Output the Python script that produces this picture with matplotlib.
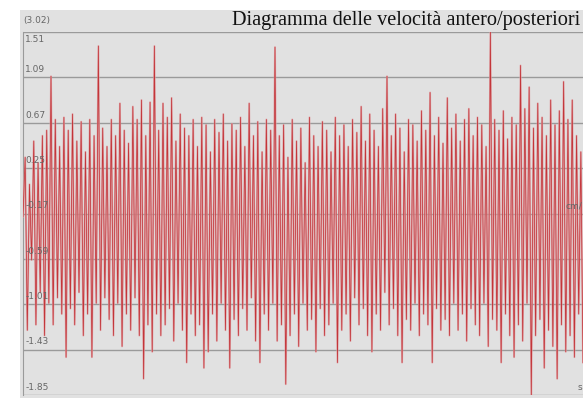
import matplotlib.pyplot as plt
from matplotlib.patches import Rectangle
import numpy as np

# velocity extremes per oscillation cycle (cm/s)
peaks = [0.35, 0.10, 0.50, 0.30, 0.55, 0.60, 1.10, 0.70, 0.45, 0.72,
         0.60, 0.75, 0.50, 0.68, 0.40, 0.70, 0.55, 1.38, 0.62, 0.45,
         0.70, 0.55, 0.85, 0.60, 0.48, 0.82, 0.70, 0.88, 0.55, 0.86,
         1.38, 0.60, 0.85, 0.72, 0.90, 0.50, 0.75, 0.62, 0.55, 0.70,
         0.45, 0.72, 0.65, 0.40, 0.70, 0.58, 0.75, 0.50, 0.66, 0.60,
         0.72, 0.45, 0.85, 0.55, 0.68, 0.40, 0.70, 0.60, 1.37, 0.55,
         0.65, 0.35, 0.70, 0.50, 0.62, 0.30, 0.72, 0.55, 0.45, 0.68,
         0.60, 0.40, 0.72, 0.55, 0.65, 0.45, 0.70, 0.58, 0.82, 0.50,
         0.75, 0.60, 0.45, 0.80, 1.10, 0.55, 0.75, 0.62, 0.40, 0.70,
         0.65, 0.50, 0.78, 0.60, 0.95, 0.55, 0.72, 0.48, 0.90, 0.62,
         0.75, 0.50, 0.70, 0.80, 0.55, 0.72, 0.65, 0.45, 1.51, 0.70,
         0.60, 0.78, 0.52, 0.72, 0.65, 1.20, 0.80, 1.00, 0.62, 0.85,
         0.72, 0.55, 0.88, 0.65, 0.78, 1.05, 0.70, 0.88, 0.55, 0.40]
troughs = [-1.25, -0.60, -1.20, -0.90, -1.30, -1.00, -1.20, -0.95, -1.10, -1.50,
           -1.05, -1.20, -0.90, -1.30, -1.10, -1.50, -1.00, -1.25, -0.95, -1.15,
           -1.30, -1.00, -1.40, -1.10, -1.25, -0.95, -1.30, -1.70, -1.20, -1.45,
           -1.10, -1.30, -1.20, -1.05, -1.35, -1.00, -1.25, -1.55, -1.10, -1.30,
           -1.20, -1.60, -1.45, -1.10, -1.35, -1.00, -1.25, -1.60, -1.15, -1.30,
           -1.05, -1.25, -0.95, -1.35, -1.55, -1.10, -1.25, -1.00, -1.35, -1.20,
           -1.75, -1.30, -1.10, -1.40, -1.00, -1.25, -1.15, -1.45, -1.05, -1.30,
           -1.20, -1.00, -1.55, -1.25, -1.10, -1.35, -0.95, -1.20, -1.05, -1.30,
           -1.45, -1.10, -1.25, -0.90, -1.20, -1.05, -1.30, -1.55, -1.15, -1.25,
           -1.00, -1.30, -1.10, -1.20, -1.55, -1.05, -1.25, -1.15, -1.30, -1.00,
           -1.25, -1.10, -1.35, -1.05, -1.20, -1.30, -1.00, -1.40, -1.15, -1.25,
           -1.55, -1.10, -1.30, -1.50, -1.20, -1.35, -1.00, -1.85, -1.30, -1.15,
           -1.60, -1.25, -1.40, -1.70, -1.20, -1.45, -1.30, -1.50, -1.10, -1.55]
start_value = -0.20

grid_values = [1.51, 1.09, 0.67, 0.25, -0.17, -0.59, -1.01, -1.43, -1.85]
range_label = '(3.02)'
title = 'Diagramma delle velocità antero/posteriori'

# interleave the cycle extremes into one trace
signal = [start_value]
for p, t in zip(peaks, troughs):
    signal += [p, t]
signal = np.array(signal)
t_axis = np.arange(len(signal)) / 2.0

fig = plt.figure(figsize=(5.83, 4.0), dpi=100)
fig.patch.set_facecolor('white')
# grey panel behind title and plot
fig.add_artist(Rectangle((20 / 583, 2 / 400), 1, 388 / 400, transform=fig.transFigure,
                         facecolor='#e1e1e1', edgecolor='none', zorder=-10))

ax = fig.add_axes([23 / 583, 5 / 400, 1 - 23 / 583, 363 / 400])
ax.set_zorder(1)
ax.set_facecolor('#e1e1e1')
# soft pink body plus darker core, like a blurred red trace
ax.plot(t_axis, signal, color='#e0a0a3', lw=1.4, alpha=0.85, zorder=3)
ax.plot(t_axis, signal, color='#c0282d', lw=0.55, alpha=0.9, zorder=3)

ylab = ax.get_yaxis_transform()
for v in grid_values:
    ax.axhline(v, color='#9a9a9a', lw=1.0, zorder=2)
    if v == grid_values[0]:
        ax.text(0.004, v - 0.03, f'{v:.2f}', transform=ylab,
                ha='left', va='top', fontsize=6.5, color='#666666', zorder=4)
    else:
        ax.text(0.004, v + 0.03, f'{v:.2f}', transform=ylab,
                ha='left', va='bottom', fontsize=6.5, color='#666666', zorder=4)

ax.set_xlim(0, t_axis[-1])
ax.set_ylim(grid_values[-1], grid_values[0])
ax.set_xticks([])
ax.set_yticks([])
for side in ['top', 'right', 'bottom']:
    ax.spines[side].set_visible(False)
ax.spines['left'].set_color('#9a9a9a')

ax.text(0.998, -0.17 + 0.03, 'cm/', transform=ylab,
        ha='right', va='bottom', fontsize=6.5, color='#666666', zorder=4)
ax.text(0.998, grid_values[-1] + 0.03, 's', transform=ylab,
        ha='right', va='bottom', fontsize=6.5, color='#666666', zorder=4)

fig.text(23 / 583, 1 - 20 / 400, range_label, ha='left', va='center',
         fontsize=6.5, color='#666666')
fig.text(580 / 583, 1 - 21 / 400, title, ha='right', va='center',
         fontsize=14.6, family='Liberation Serif', color='#111111')

fig.savefig('out.png', dpi=100)
